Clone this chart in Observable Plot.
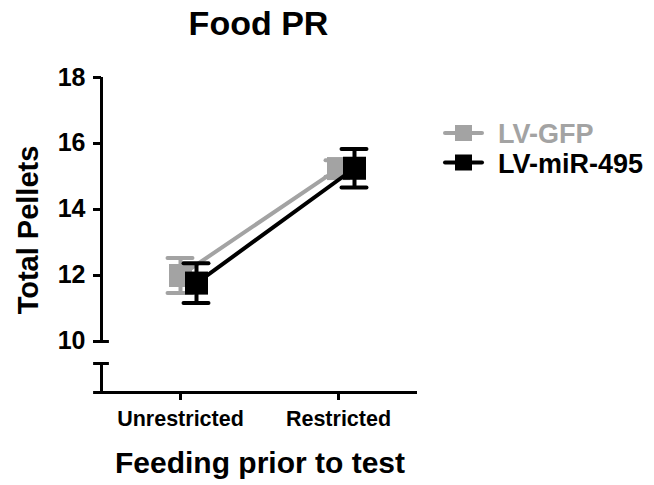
<!DOCTYPE html>
<html><head><meta charset="utf-8">
<script src="https://cdn.jsdelivr.net/npm/d3@7"></script>
<script src="https://cdn.jsdelivr.net/npm/@observablehq/plot@0.6"></script>
<style>
body{margin:0;background:#fff;}
#wrap{width:654px;height:485px;}
</style></head><body><div id="wrap"></div>
<script>
const categories = ["Unrestricted", "Restricted"];
const series = ["LV-GFP", "LV-miR-495"];
const colors = ["#a3a3a3", "#000000"];
const gfpMean = [12.0, 15.24];
const gfpSem = [0.53, 0.25];
const mirMean = [11.77, 15.25];
const mirSem = [0.6, 0.58];
const yTicks = [10, 12, 14, 16, 18];
const title = "Food PR";
const yLabel = "Total Pellets";
const xLabel = "Feeding prior to test";

const means = [gfpMean, mirMean];
const sems = [gfpSem, mirSem];
const offsets = [0, 16];

const rows = [];
series.forEach((s, k) => categories.forEach((c, i) => rows.push({
  series: s, k, i, cat: c, mean: means[k][i],
  lo: means[k][i] - sems[k][i], hi: means[k][i] + sems[k][i]
})));

const yMin = 8.4545, yBreak = 9.333, yMain = 10, yMax = 18;
const xMin = -0.55, xAxis = -0.5, xMax = 1.5;
const capHalf = 0.079;

const marks = [
  Plot.ruleY([yMin], {x1: xMin, x2: xMax, stroke: "#000", strokeWidth: 3}),
  Plot.ruleX([xAxis], {y1: yMain, y2: yMax, stroke: "#000", strokeWidth: 3}),
  Plot.ruleX([xAxis], {y1: yMin, y2: yBreak, stroke: "#000", strokeWidth: 3}),
  Plot.ruleY([yBreak, yMain], {x1: xMin, x2: xAxis + (xAxis - xMin), stroke: "#000", strokeWidth: 3}),
  Plot.axisY(yTicks, {anchor: "left", tickSize: 8, tickPadding: 8, strokeWidth: 3, fontSize: 25, label: null}),
  Plot.axisX([0, 1], {anchor: "bottom", tickSize: 8, tickPadding: 10, strokeWidth: 3, fontSize: 21.5, label: null, tickFormat: i => categories[i]})
];

series.forEach((s, k) => {
  const d = rows.filter(r => r.k === k);
  const dx = offsets[k];
  const col = colors[k];
  marks.push(
    Plot.line(d, {x: "i", y: "mean", stroke: col, strokeWidth: 4, dx}),
    Plot.ruleX(d, {x: "i", y1: "lo", y2: "hi", stroke: col, strokeWidth: 4, dx}),
    Plot.ruleY(d, {y: "hi", x1: r => r.i - capHalf, x2: r => r.i + capHalf, stroke: col, strokeWidth: 4, strokeLinecap: "round", dx}),
    Plot.ruleY(d, {y: "lo", x1: r => r.i - capHalf, x2: r => r.i + capHalf, stroke: col, strokeWidth: 4, strokeLinecap: "round", dx}),
    Plot.dot(d, {x: "i", y: "mean", symbol: "square", r: 13, fill: col, stroke: "none", dx})
  );
});

const chart = Plot.plot({
  width: 654, height: 485,
  marginLeft: 101, marginRight: 237, marginTop: 77, marginBottom: 93,
  style: {fontFamily: "'Liberation Sans', Arial, sans-serif", fontWeight: "bold", background: "#fff", color: "#000", overflow: "visible"},
  x: {type: "linear", domain: [xAxis, xMax], axis: null},
  y: {type: "linear", domain: [yMin, yMax], axis: null},
  marks
});
document.getElementById("wrap").appendChild(chart);

const svg = d3.select(chart);
const ff = "'Liberation Sans', Arial, sans-serif";
svg.append("text").attr("x", 258.5).attr("y", 35).attr("text-anchor", "middle")
  .attr("font-size", 34).attr("font-weight", "bold").attr("font-family", ff).attr("fill", "#000").text(title);
svg.append("text").attr("transform", "translate(38,230) rotate(-90)").attr("text-anchor", "middle")
  .attr("font-size", 29).attr("font-weight", "bold").attr("font-family", ff).attr("fill", "#000").text(yLabel);
svg.append("text").attr("x", 260).attr("y", 473).attr("text-anchor", "middle")
  .attr("font-size", 30).attr("font-weight", "bold").attr("font-family", ff).attr("fill", "#000").text(xLabel);

const lg = svg.append("g");
series.forEach((s, k) => {
  const cy = 133 + k * 29.5;
  const g = lg.append("g").attr("transform", `translate(0,${cy})`);
  g.append("line").attr("x1", 445).attr("x2", 482).attr("y1", 0).attr("y2", 0)
    .attr("stroke", colors[k]).attr("stroke-width", 4).attr("stroke-linecap", "round");
  g.append("rect").attr("x", 455).attr("y", -8).attr("width", 17).attr("height", 16).attr("fill", colors[k]);
  g.append("text").attr("x", 498).attr("y", 10).attr("text-anchor", "start").attr("font-size", 27).attr("font-weight", "bold")
    .attr("font-family", ff).attr("fill", colors[k]).text(s);
});
</script></body></html>
